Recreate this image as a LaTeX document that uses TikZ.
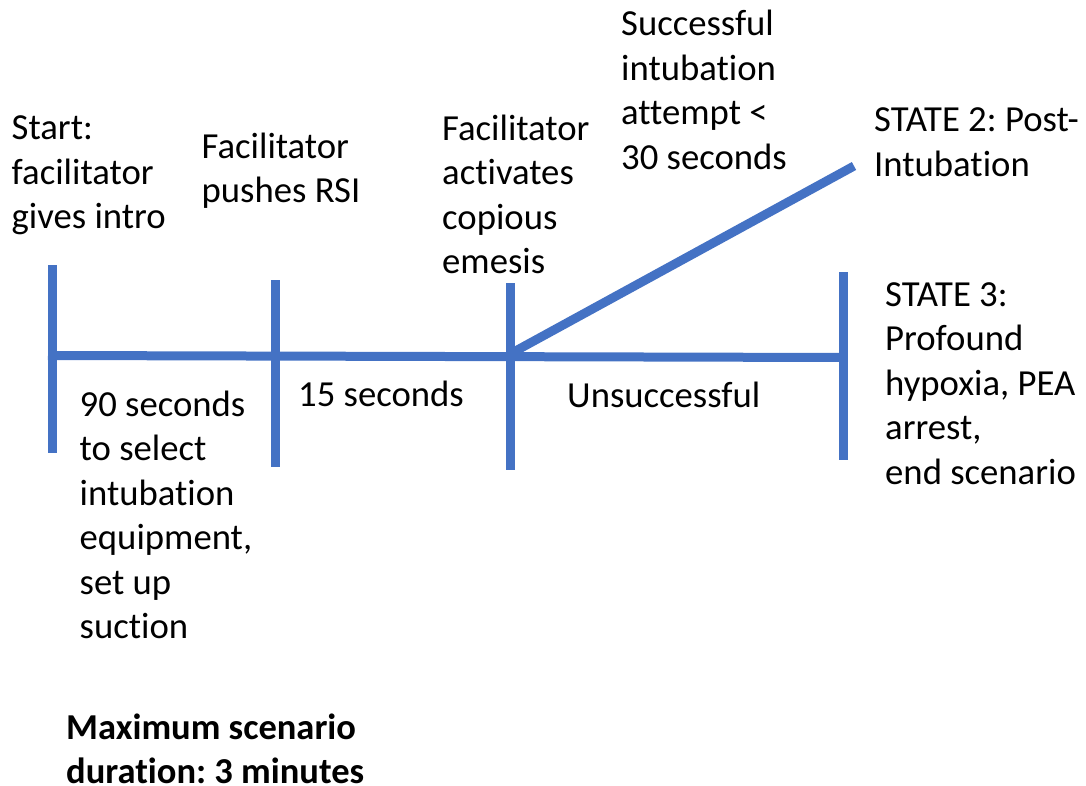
\documentclass[tikz,border=0pt]{standalone}
\usepackage{fontspec}
\setmainfont{Carlito}[Ligatures=NoCommon]
\definecolor{tlblue}{HTML}{4472C4}
\begin{document}
\frenchspacing
\begin{tikzpicture}[x=1pt,y=-1pt,
  tl/.style={draw=tlblue,line width=9pt,line cap=butt},
  lbl/.style={anchor=base west,inner sep=0pt,align=left,font=\fontsize{36.7}{44.5}\selectfont\frenchspacing,text=black}]
\useasboundingbox (0,0) rectangle (1086,786);
% tick coordinates
\coordinate (t1a) at (52,265);  \coordinate (t1b) at (52,453);
\coordinate (t2a) at (275.5,280); \coordinate (t2b) at (275.5,467);
\coordinate (t3a) at (510,283); \coordinate (t3b) at (510,470);
\coordinate (t4a) at (843,272); \coordinate (t4b) at (843,460);
\coordinate (hl) at (48,355.5); \coordinate (hr) at (843,357.5);
\coordinate (dj) at (510,354); \coordinate (de) at (854,166);
\draw[tl] (hl) -- (hr);
\draw[tl] (t1a) -- (t1b);
\draw[tl] (t2a) -- (t2b);
\draw[tl] (t3a) -- (t3b);
\draw[tl] (t4a) -- (t4b);
\draw[tl] (dj) -- (de);
% labels (anchored at the baseline of their last line)
\node[lbl] (start) at (11.5,229) {Start:\\facilitator\\gives intro};
\node[lbl] (rsi) at (201.5,203) {Facilitator\\pushes RSI};
\node[lbl] (emesis) at (442,273.5) {Facilitator\\activates\\copious\\emesis};
\node[lbl] (succ) at (621,169.5) {Successful\\intubation\\attempt <\\30 seconds};
\node[lbl] (st2) at (874,176.5) {STATE 2: Post-\\Intubation};
\node[lbl] (st3) at (885,484) {STATE 3:\\Profound\\hypoxia, PEA\\arrest,\\end scenario};
\node[lbl] (ninety) at (79.5,638.5) {90 seconds\\to select\\intubation\\equipment,\\set up\\suction};
\node[lbl] (fifteen) at (298,406.7) {15 seconds};
\node[lbl] (unsucc) at (567,407.3) {Unsuccessful};
\node[lbl,font=\fontsize{36.5}{43.5}\selectfont\bfseries\frenchspacing] (maxdur) at (66,783) {Maximum scenario\\duration: 3 minutes};
\end{tikzpicture}
\end{document}
